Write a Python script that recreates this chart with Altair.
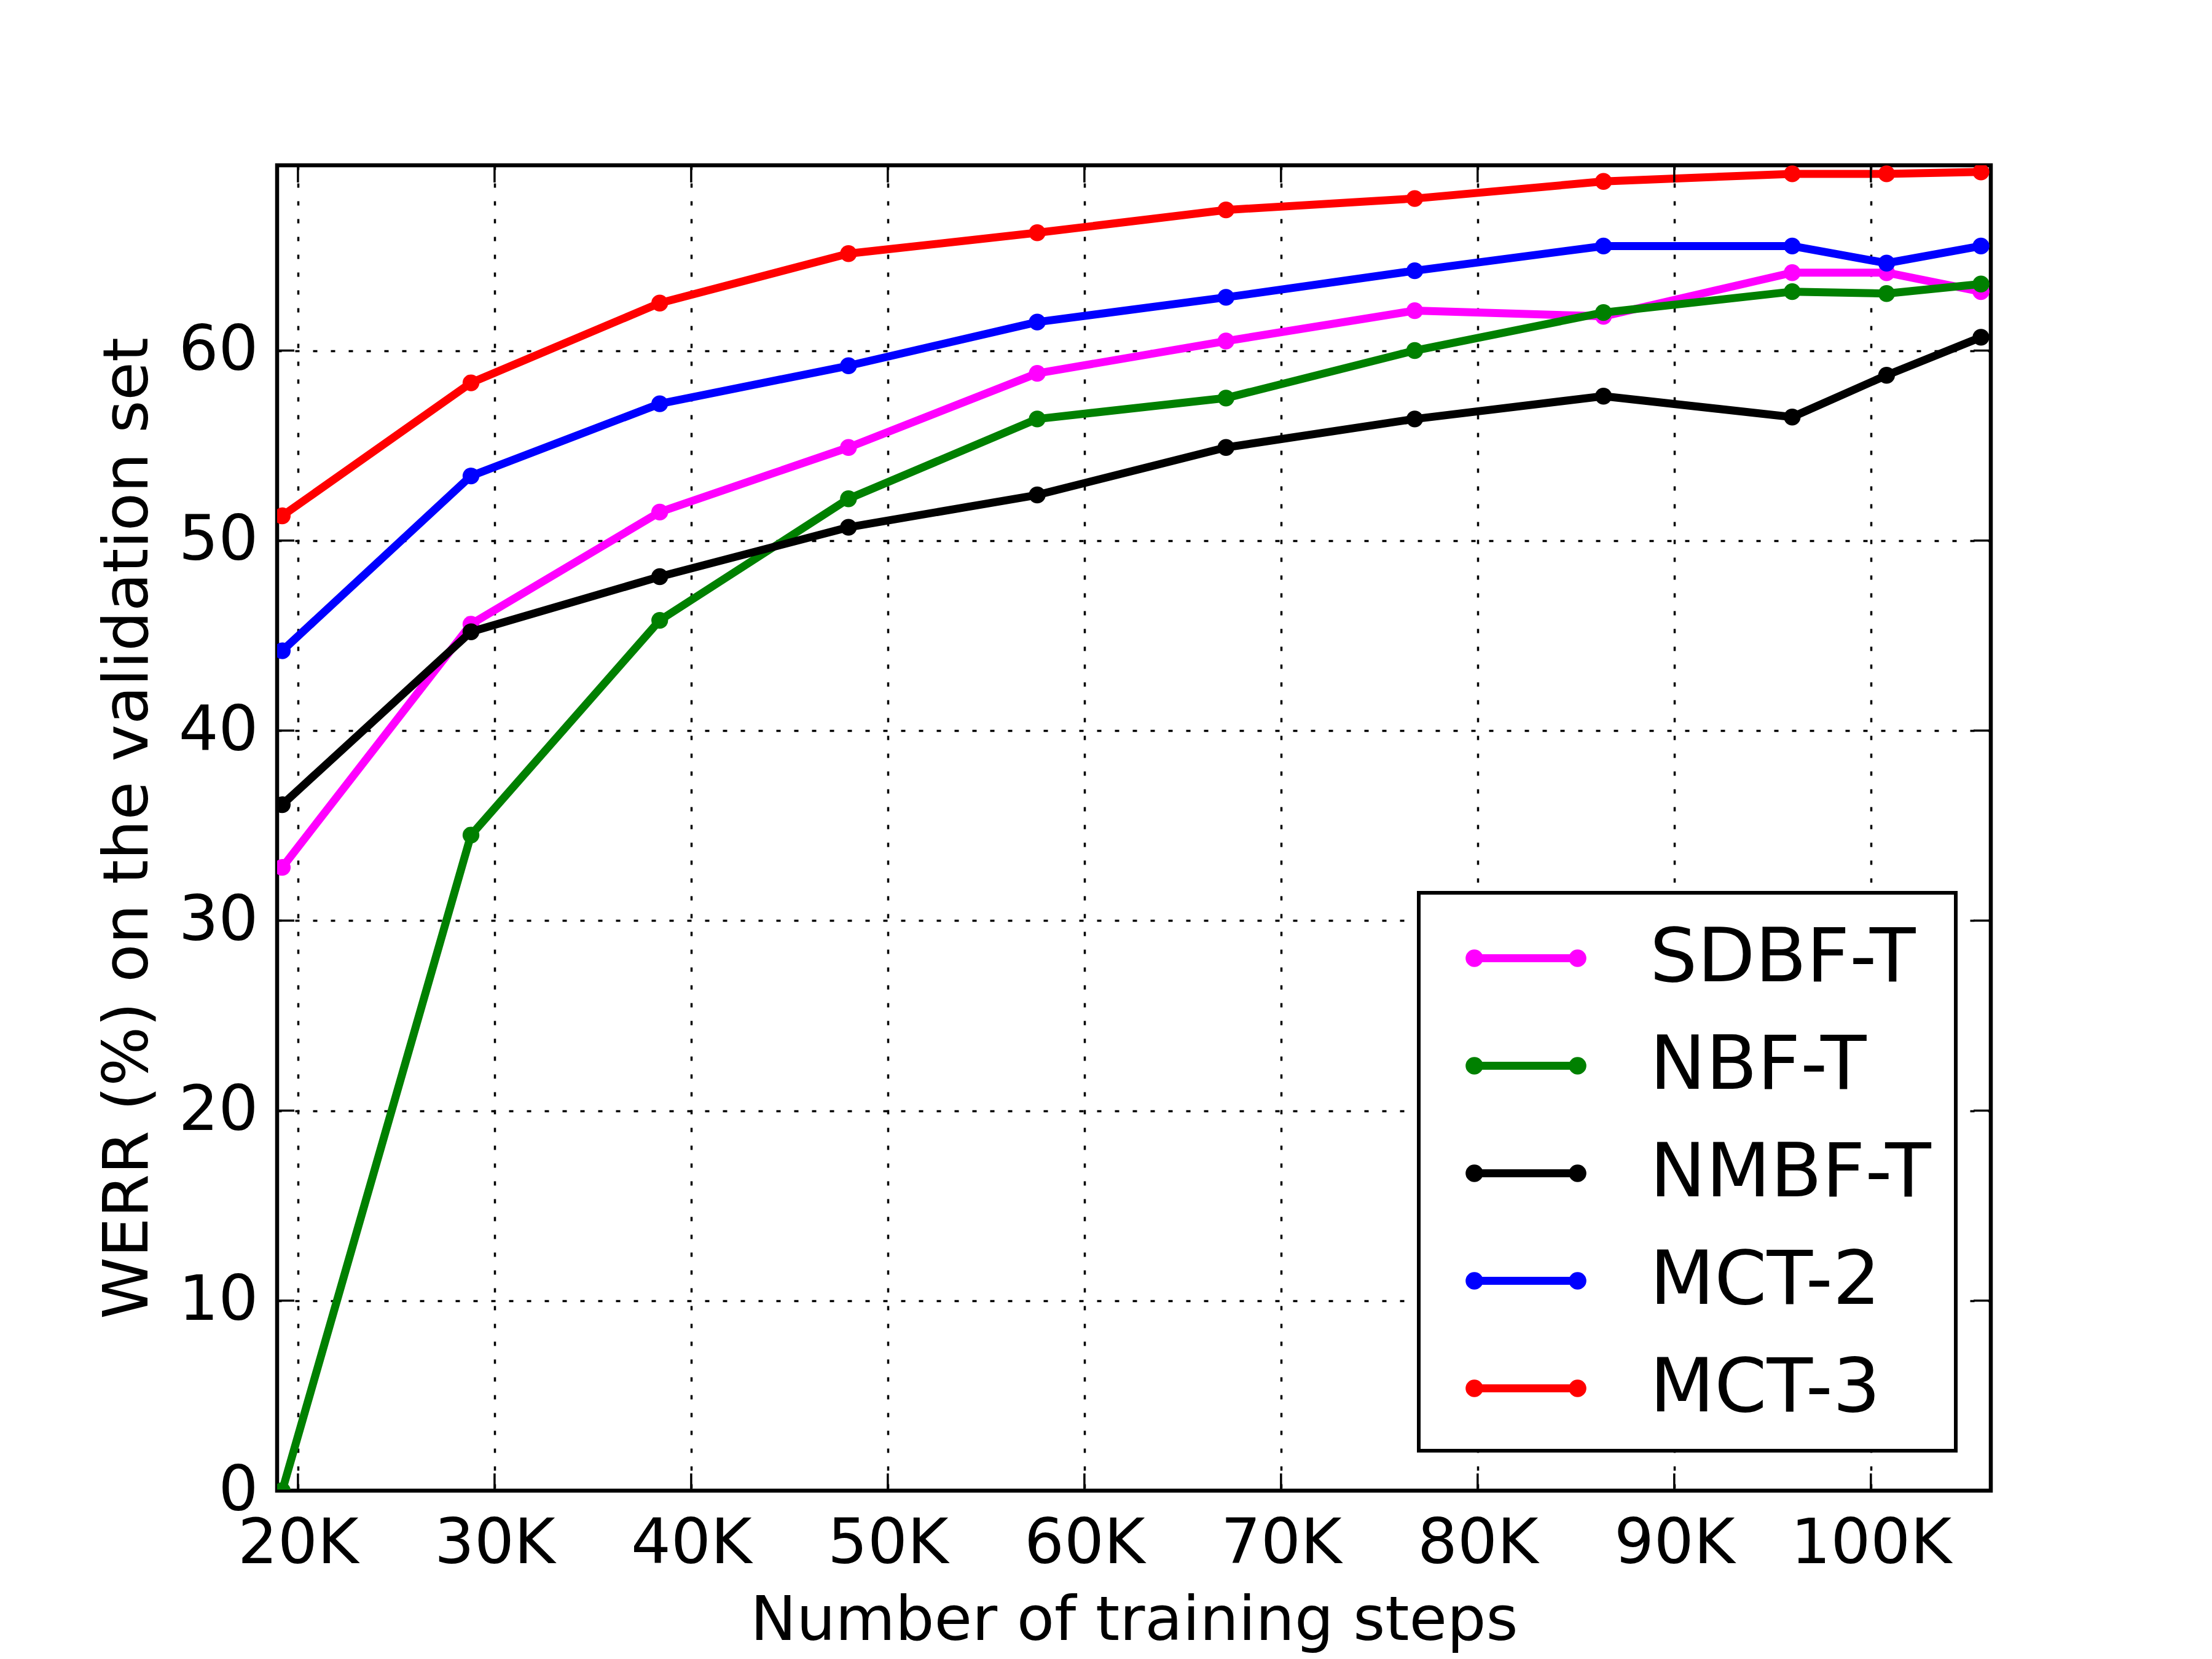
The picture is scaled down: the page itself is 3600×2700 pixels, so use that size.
import altair as alt
import pandas as pd

# ---- data ----
steps = [19200, 28800, 38400, 48000, 57600, 67200, 76800, 86400, 96000, 100800, 105600]
series_names = ["SDBF-T", "NBF-T", "NMBF-T", "MCT-2", "MCT-3"]
series_colors = ["#ff00ff", "#008000", "#000000", "#0000ff", "#ff0000"]
sdbf_t = [32.8, 45.6, 51.5, 54.9, 58.8, 60.5, 62.1, 61.8, 64.1, 64.1, 63.1]
nbf_t = [0.0, 34.5, 45.8, 52.2, 56.4, 57.5, 60.0, 62.0, 63.1, 63.0, 63.5]
nmbf_t = [36.1, 45.2, 48.1, 50.7, 52.4, 54.9, 56.4, 57.6, 56.5, 58.7, 60.7]
mct_2 = [44.2, 53.4, 57.2, 59.2, 61.5, 62.8, 64.2, 65.5, 65.5, 64.6, 65.5]
mct_3 = [51.3, 58.3, 62.5, 65.1, 66.2, 67.4, 68.0, 68.9, 69.3, 69.3, 69.4]
series_values = [sdbf_t, nbf_t, nmbf_t, mct_2, mct_3]

x_ticks = [20000, 30000, 40000, 50000, 60000, 70000, 80000, 90000, 100000]
y_ticks = [0, 10, 20, 30, 40, 50, 60]
x_domain = [18940, 106100]
y_domain = [0, 69.75]

W, H = 2789, 2157
FONT = "DejaVu Sans"
TICK = 28
LW = 13

rows = []
for name, vals in zip(series_names, series_values):
    for s, v in zip(steps, vals):
        rows.append({"step": s, "werr": v, "model": name})
df = pd.DataFrame(rows)

xscale = alt.Scale(domain=x_domain, nice=False, zero=False)
yscale = alt.Scale(domain=y_domain, nice=False, zero=False)

# legend symbol: line with dots at both ends
def circ(cx, r):
    return f"M{cx - r:.3f},0a{r},{r} 0 1,0 {2 * r},0a{r},{r} 0 1,0 {-2 * r},0"

sym = "M-1.4,0L1.4,0" + circ(-1.4, 0.13) + circ(-1.4, 0.04) + circ(1.4, 0.13) + circ(1.4, 0.04)

color = alt.Color(
    "model:N",
    scale=alt.Scale(domain=series_names, range=series_colors),
    sort=series_names,
    legend=alt.Legend(
        title=None,
        orient="none",
        legendX=1858,
        legendY=1184,
        symbolType=sym,
        symbolSize=14400,
        symbolStrokeWidth=LW,
        symbolOffset=68,
        labelOffset=135,
        labelFontSize=122,
        labelFont=FONT,
        labelColor="black",
        labelLimit=2000,
        rowPadding=47,
        padding=40,
        fillColor="white",
        strokeColor="black",
    ),
)

xaxis = alt.Axis(
    values=x_ticks,
    labelExpr="datum.value / 1000 + 'K'",
    title="Number of training steps",
    grid=True, gridColor="black", gridDash=[7, 22], gridWidth=3.5, gridOpacity=1,
    domain=False, ticks=False, tickSize=0,
    labelFontSize=102, labelFont=FONT, labelColor="black", labelPadding=36,
    labelLimit=1000, labelOverlap=False,
    titleFontSize=100, titleFont=FONT, titleColor="black", titleFontWeight="normal",
    titlePadding=26, titleLimit=3000, labelFlush=False,
)
yaxis = alt.Axis(
    values=y_ticks,
    format="d",
    title="WERR (%) on the validation set",
    grid=True, gridColor="black", gridDash=[7, 22], gridWidth=3.5, gridOpacity=1,
    domain=False, ticks=False, tickSize=0,
    labelFontSize=102, labelFont=FONT, labelColor="black", labelPadding=31,
    labelLimit=1000,
    titleFontSize=102, titleFont=FONT, titleColor="black", titleFontWeight="normal",
    titlePadding=30, titleLimit=3000, labelFlush=False,
)

X = lambda: alt.X("step:Q", scale=xscale, axis=xaxis)
Y = lambda: alt.Y("werr:Q", scale=yscale, axis=yaxis)

layers = []
for name in series_names:
    layers.append(
        alt.Chart(df)
        .transform_filter(alt.datum.model == name)
        .mark_line(strokeWidth=LW, strokeJoin="round", clip=True,
                   point=alt.OverlayMarkDef(size=750, filled=True, opacity=1))
        .encode(x=X(), y=Y(), color=color)
    )

xt = pd.DataFrame({"step": x_ticks})
yt = pd.DataFrame({"werr": y_ticks})
tick_style = dict(color="black", strokeWidth=3.5)
tick_layers = [
    alt.Chart(xt).mark_rule(**tick_style).encode(x=X(), y=alt.value(H), y2=alt.value(H - TICK)),
    alt.Chart(xt).mark_rule(**tick_style).encode(x=X(), y=alt.value(0), y2=alt.value(TICK)),
    alt.Chart(yt).mark_rule(**tick_style).encode(y=Y(), x=alt.value(0), x2=alt.value(TICK)),
    alt.Chart(yt).mark_rule(**tick_style).encode(y=Y(), x=alt.value(W - TICK), x2=alt.value(W)),
]

chart = (
    alt.layer(*layers, *tick_layers)
    .properties(
        width=W,
        height=H,
        autosize=alt.AutoSizeParams(type="none"),
        padding={"left": 443, "top": 261, "right": 352, "bottom": 300},
        background="white",
    )
    .configure(font=FONT)
    .configure_view(stroke="black", strokeWidth=6.5, fill="white")
    .configure_legend(strokeWidth=6)
)

chart.save("out.html", embed_options={"renderer": "svg", "actions": False})
